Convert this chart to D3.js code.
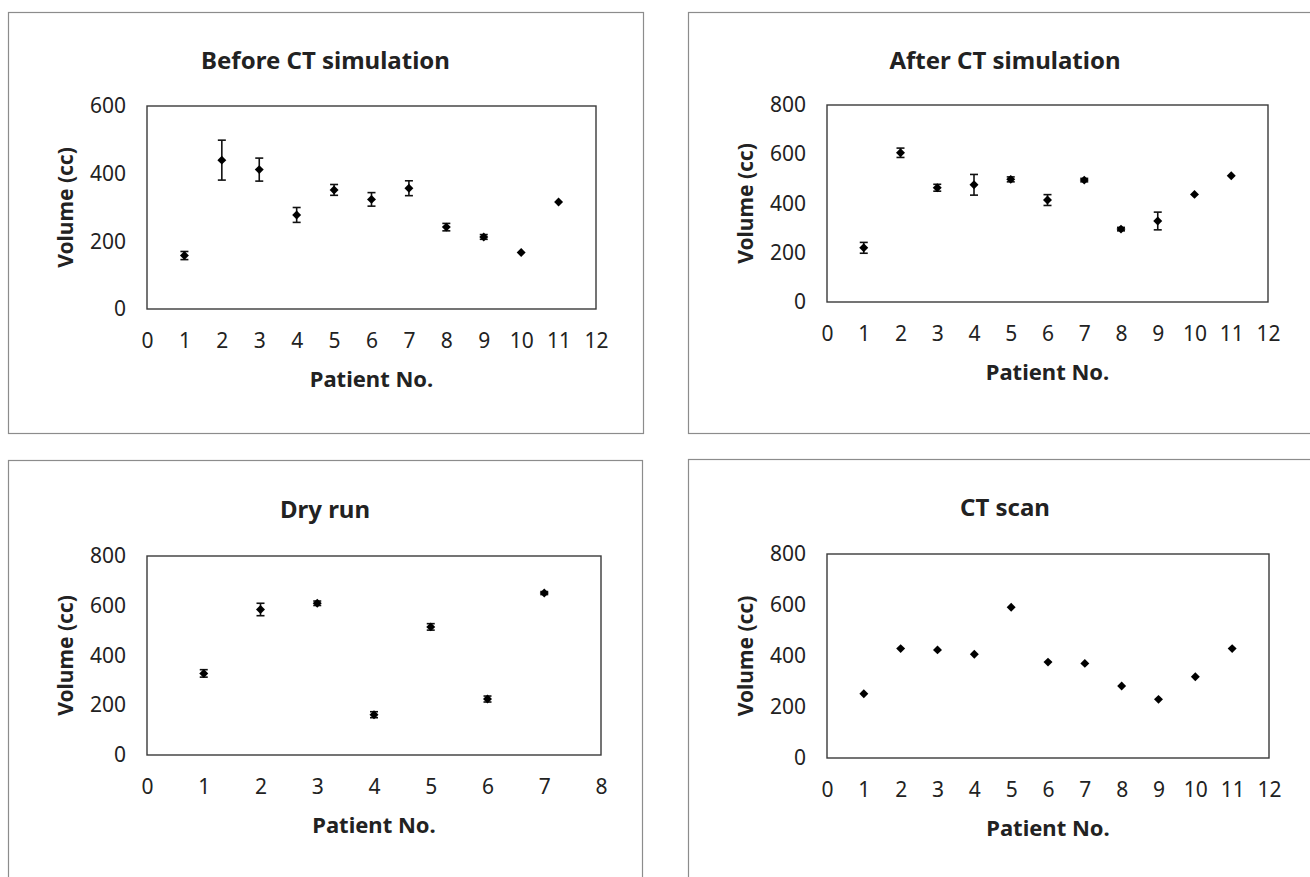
<!DOCTYPE html>
<html>
<head>
<style>
  body { margin: 0; background: #fff; }
  text { font-family: "Noto Sans", "Noto Sans CJK KR", sans-serif; fill: #222; }
</style>
</head>
<body>
<svg width="1310" height="877"></svg>
<script src="https://cdn.jsdelivr.net/npm/d3@7"></script>
<script>
  // patient numbers
  const patients11 = [1, 2, 3, 4, 5, 6, 7, 8, 9, 10, 11];
  const patients7 = [1, 2, 3, 4, 5, 6, 7];

  // Before CT simulation
  const beforeVol = [158, 440, 412, 278, 352, 324, 357, 242, 213, 167, 316];
  const beforeErr = [12, 59, 34, 22, 16, 20, 22, 11, 7, 0, 0];

  // After CT simulation
  const afterVol = [220, 606, 464, 476, 498, 414, 495, 296, 329, 437, 513];
  const afterErr = [22, 19, 14, 42, 10, 22, 7, 7, 36, 0, 0];

  // Dry run
  const dryVol = [328, 585, 610, 162, 515, 225, 651];
  const dryErr = [15, 25, 9, 12, 13, 12, 6];

  // CT scan
  const ctVol = [252, 429, 424, 407, 591, 376, 371, 282, 230, 319, 429];

  const xTicks12 = [0, 1, 2, 3, 4, 5, 6, 7, 8, 9, 10, 11, 12];
  const xTicks8 = [0, 1, 2, 3, 4, 5, 6, 7, 8];
  const yTicks600 = [0, 200, 400, 600];
  const yTicks800 = [0, 200, 400, 600, 800];

  const svg = d3.select("svg");

  const panels = [
    { title: "Before CT simulation", box: [8, 12, 635, 421], plot: [147, 106, 596, 309], titleY: 62,
      xs: patients11, ys: beforeVol, err: beforeErr, xMax: 12, xTicks: xTicks12, yMax: 600, yTicks: yTicks600 },
    { title: "After CT simulation", box: [688, 12, 634, 421], plot: [827, 105, 1268, 302], titleY: 62,
      xs: patients11, ys: afterVol, err: afterErr, xMax: 12, xTicks: xTicks12, yMax: 800, yTicks: yTicks800 },
    { title: "Dry run", box: [8, 460, 634, 430], plot: [147, 556, 601, 755], titleY: 511,
      xs: patients7, ys: dryVol, err: dryErr, xMax: 8, xTicks: xTicks8, yMax: 800, yTicks: yTicks800 },
    { title: "CT scan", box: [688, 459, 634, 430], plot: [827, 554, 1269, 758], titleY: 509,
      xs: patients11, ys: ctVol, err: null, xMax: 12, xTicks: xTicks12, yMax: 800, yTicks: yTicks800 }
  ];

  const marker = d3.symbol().type(d3.symbolSquare).size(40);

  panels.forEach(function(p) {
    const g = svg.append("g");
    const [L, T, R, B] = p.plot;

    // outer chart border
    g.append("rect")
      .attr("x", p.box[0] + 0.5).attr("y", p.box[1] + 0.5)
      .attr("width", p.box[2]).attr("height", p.box[3])
      .attr("fill", "none").attr("stroke", "#8c8c8c").attr("stroke-width", 1.2);

    const x = d3.scaleLinear().domain([0, p.xMax]).range([L, R]);
    const y = d3.scaleLinear().domain([0, p.yMax]).range([B, T]);

    // y axis labels
    const yAxis = d3.axisLeft(y).tickValues(p.yTicks).tickSize(0).tickPadding(21);
    g.append("g").attr("transform", "translate(" + L + ",0)").call(yAxis)
      .call(s => s.select(".domain").remove())
      .selectAll("text").style("font-size", "21px").attr("fill", "#222");

    // x axis labels
    const xAxis = d3.axisBottom(x).tickValues(p.xTicks).tickSize(0).tickPadding(24);
    g.append("g").attr("transform", "translate(0," + B + ")").call(xAxis)
      .call(s => s.select(".domain").remove())
      .selectAll("text").style("font-size", "21px").attr("fill", "#222");

    // plot frame
    g.append("rect")
      .attr("x", L).attr("y", T).attr("width", R - L).attr("height", B - T)
      .attr("fill", "none").attr("stroke", "#3a3a3a").attr("stroke-width", 1.4);

    // title, centred in the chart box
    g.append("text")
      .attr("x", p.box[0] + p.box[2] / 2).attr("y", p.titleY)
      .attr("text-anchor", "middle").attr("dominant-baseline", "middle")
      .style("font-size", "24px").style("font-weight", "bold")
      .text(p.title);

    // axis titles
    g.append("text")
      .attr("x", (L + R) / 2).attr("y", B + 72)
      .attr("text-anchor", "middle").attr("dominant-baseline", "middle")
      .style("font-size", "22px").style("font-weight", "bold")
      .text("Patient No.");

    g.append("text")
      .attr("transform", "translate(" + (L - 80) + "," + ((T + B) / 2) + ") rotate(-90)")
      .attr("text-anchor", "middle").attr("dominant-baseline", "middle")
      .style("font-size", "21px").style("font-weight", "bold")
      .text("Volume (cc)");

    const pts = p.xs.map((d, i) => ({ x: d, v: p.ys[i], e: p.err ? p.err[i] : 0 }));

    // error bars
    const eb = g.append("g").attr("stroke", "#111").attr("stroke-width", 1.6);
    pts.filter(d => d.e > 0).forEach(function(d) {
      const cx = x(d.x), y0 = y(d.v - d.e), y1 = y(d.v + d.e);
      eb.append("line").attr("x1", cx).attr("x2", cx).attr("y1", y0).attr("y2", y1);
      eb.append("line").attr("x1", cx - 4).attr("x2", cx + 4).attr("y1", y0).attr("y2", y0);
      eb.append("line").attr("x1", cx - 4).attr("x2", cx + 4).attr("y1", y1).attr("y2", y1);
    });

    // diamond markers
    g.selectAll(".pt").data(pts).enter().append("path")
      .attr("class", "pt")
      .attr("transform", d => "translate(" + x(d.x) + "," + y(d.v) + ") rotate(45)")
      .attr("d", marker)
      .attr("fill", "#000");
  });
</script>
</body>
</html>
